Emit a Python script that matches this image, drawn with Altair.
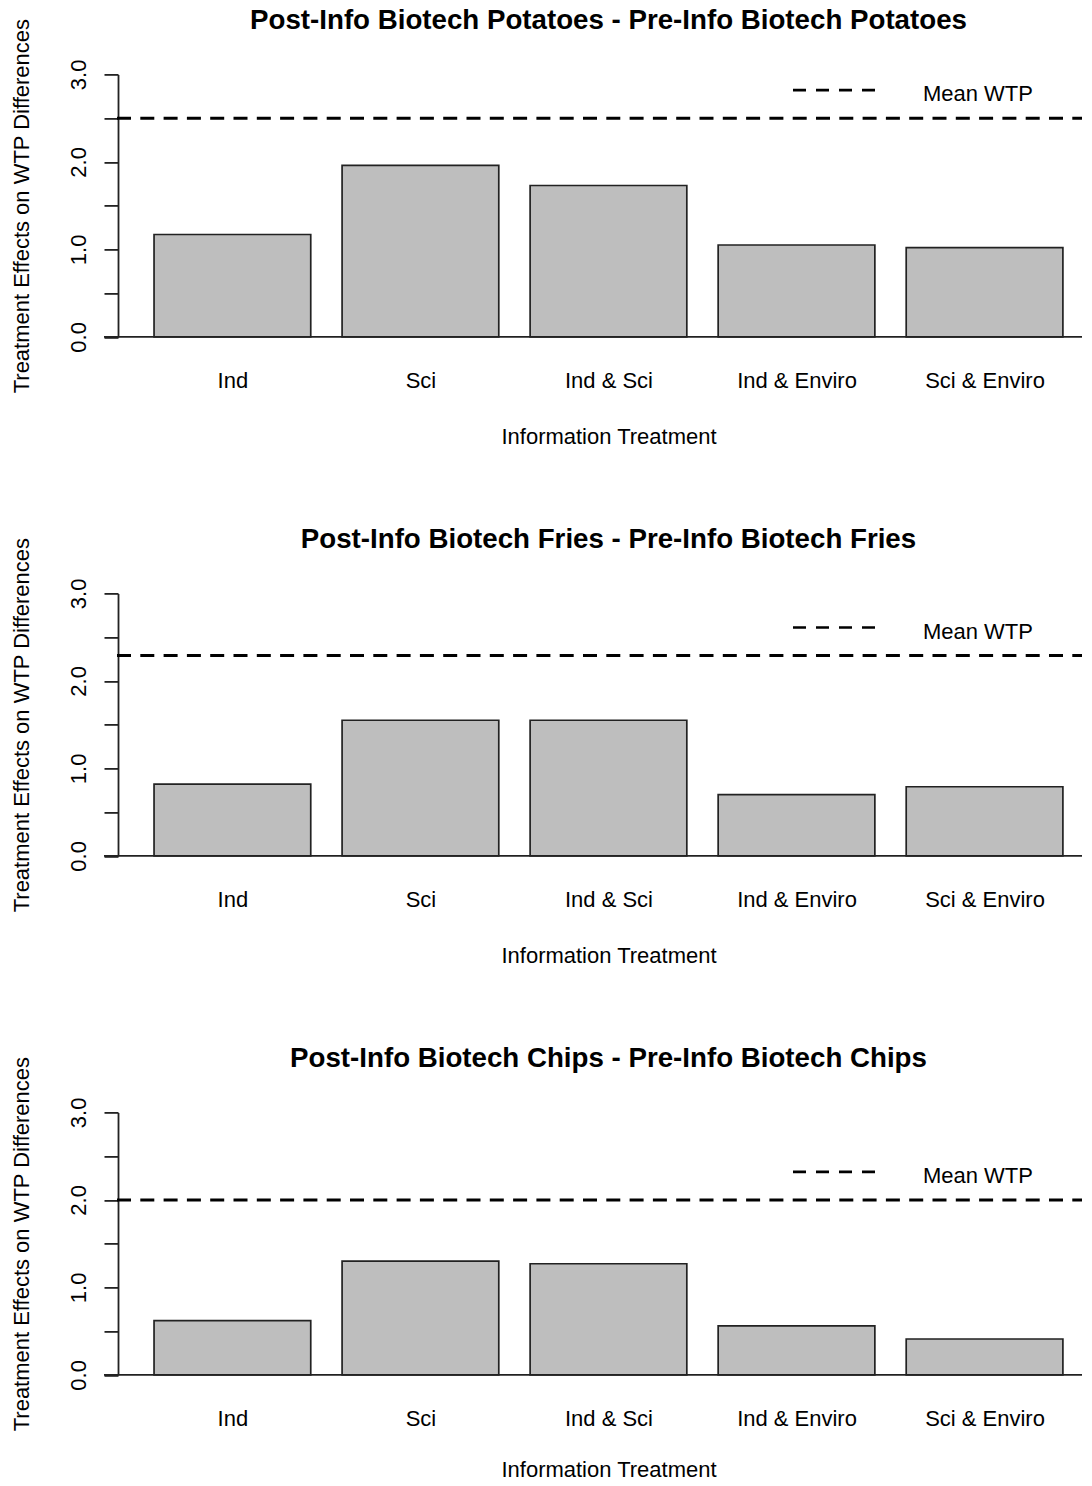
import json
import altair as alt
import pandas as pd

# ---------------- data ----------------
categories = ["Ind", "Sci", "Ind & Sci", "Ind & Enviro", "Sci & Enviro"]
potatoes = [1.17, 1.96, 1.73, 1.05, 1.02]
fries = [0.82, 1.55, 1.55, 0.70, 0.79]
chips = [0.62, 1.30, 1.27, 0.56, 0.41]
mean_wtp = [2.50, 2.29, 2.00]
panel_titles = [
    "Post-Info Biotech Potatoes - Pre-Info Biotech Potatoes",
    "Post-Info Biotech Fries - Pre-Info Biotech Fries",
    "Post-Info Biotech Chips - Pre-Info Biotech Chips",
]
y_ticks = [0.0, 0.5, 1.0, 1.5, 2.0, 2.5, 3.0]
legend_label = "Mean WTP"
x_title = "Information Treatment"
y_title = "Treatment Effects on WTP Differences"

# ---------------- style / layout ----------------
FONT = "Liberation Sans"
W, H = 964, 262.5
SPACING = 256
PX_PER_UNIT = 156.7
BAR_W, BAR_SPACE = 1.0, 0.2          # R barplot default layout
X_DOMAIN = [-0.03, -0.03 + W / PX_PER_UNIT]
DASH = [14, 9.3]
INK = "#222222"

centers = [BAR_SPACE + i * (BAR_W + BAR_SPACE) + BAR_W / 2 for i in range(len(categories))]
label_expr = (
    json.dumps(categories)
    + f"[round((datum.value - {centers[0]}) / {BAR_W + BAR_SPACE})]"
)


def panel(values, mean, title, x_title_y=107):
    df = pd.DataFrame({
        "cat": categories,
        "value": values,
        "start": [BAR_SPACE + i * (BAR_W + BAR_SPACE) for i in range(len(categories))],
    })
    df["end"] = df["start"] + BAR_W

    x_axis = alt.Axis(
        values=centers, labelExpr=label_expr, ticks=False, tickSize=0, domain=False,
        grid=False, labelPadding=50.3, labelBaseline="alphabetic", labelFontSize=22,
        labelFont=FONT, labelColor="black", labelFlush=False, labelOverlap=False,
        title=x_title, titleFont=FONT, titleFontSize=22, titleFontWeight="normal",
        titleColor="black", titleX=490.5, titleY=x_title_y, titleBaseline="alphabetic",
        titleAlign="center",
    )
    y_axis = alt.Axis(
        values=y_ticks,
        labelExpr="datum.value % 1 == 0 ? format(datum.value, '.1f') : ''",
        tickSize=14, tickColor=INK, tickWidth=1.8, domainColor=INK, domainWidth=1.8,
        grid=False, labelAngle=270, labelAlign="center", labelBaseline="alphabetic",
        labelPadding=18.5, labelFontSize=22, labelFont=FONT, labelColor="black",
        labelFlush=False, labelOverlap=False,
        title=y_title, titleFont=FONT, titleFontSize=22, titleFontWeight="normal",
        titleColor="black", titleAngle=270, titleX=-89.3, titleY=H / 2,
        titleAlign="center", titleBaseline="alphabetic",
    )

    base = alt.Chart(df)
    bars = base.mark_rect(fill="#BEBEBE", stroke=INK, strokeWidth=1.7).encode(
        x=alt.X("start:Q", scale=alt.Scale(domain=X_DOMAIN, nice=False, zero=False), axis=x_axis),
        x2="end:Q",
        y=alt.Y("value:Q", scale=alt.Scale(domain=[0, 3], nice=False), axis=y_axis),
        y2=alt.datum(0),
    )
    zero_line = alt.Chart(pd.DataFrame({"y": [0]})).mark_rule(
        color=INK, strokeWidth=1.8
    ).encode(x=alt.value(-14), x2=alt.value(W), y="y:Q")
    mean_line = alt.Chart(pd.DataFrame({"m": [mean]})).mark_rule(
        color="black", strokeWidth=3, strokeDash=DASH
    ).encode(x=alt.value(-1), x2=alt.value(W), y="m:Q")
    legend_line = alt.Chart(pd.DataFrame({"m": [mean]})).mark_rule(
        color="black", strokeWidth=2.6, strokeDash=[13, 10], yOffset=-28
    ).encode(x=alt.value(675), x2=alt.value(758), y="m:Q")
    legend_text = alt.Chart(pd.DataFrame({"m": [mean], "t": [legend_label]})).mark_text(
        align="left", baseline="alphabetic", font=FONT, fontSize=22, color="black",
        yOffset=-28, dy=11
    ).encode(x=alt.value(805), y="m:Q", text="t:N")
    title_text = alt.Chart(pd.DataFrame({"t": [title]})).mark_text(
        align="center", baseline="alphabetic", font=FONT, fontSize=27.7,
        fontWeight="bold", color="black"
    ).encode(x=alt.value(490.5), y=alt.value(-45.5), text="t:N")

    return alt.layer(bars, zero_line, mean_line, legend_line, legend_text, title_text).properties(
        width=W, height=H,
    )


chart = alt.vconcat(
    panel(potatoes, mean_wtp[0], panel_titles[0]),
    panel(fries, mean_wtp[1], panel_titles[1]),
    panel(chips, mean_wtp[2], panel_titles[2], x_title_y=101.5),
    spacing=SPACING, bounds="flush",
).properties(
    padding={"left": 2, "top": -1.6, "right": 0, "bottom": -2.5},
    background="white",
).configure_view(stroke=None)

chart.save("out.html", embed_options={"renderer": "svg", "actions": False})
